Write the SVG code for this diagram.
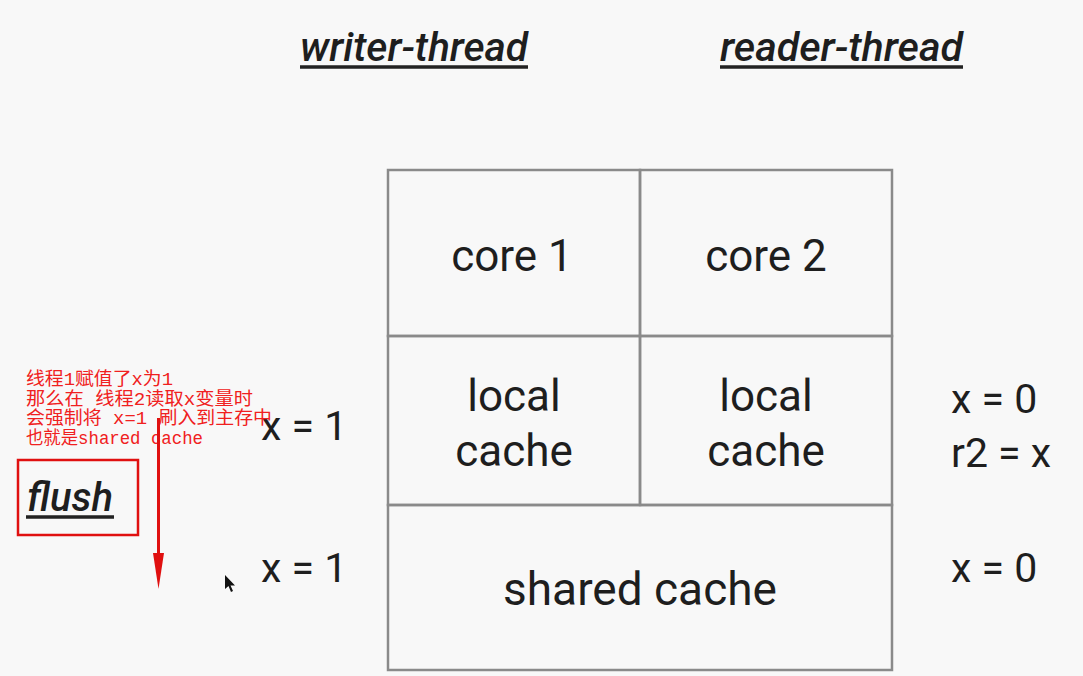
<svg xmlns="http://www.w3.org/2000/svg" width="1083" height="676" viewBox="0 0 1083 676">
<style>
.bg{fill:#f8f8f8}
.cell{fill:none;stroke:#8a8a8a;stroke-width:2.5}
.t{font-family:Roboto,"Liberation Sans",sans-serif;fill:#1e1e1e;text-anchor:middle}
.big{font-size:44px}
.side{font-family:Roboto,"Liberation Sans",sans-serif;fill:#1e1e1e;font-size:41px}
.head{font-family:Roboto,"Liberation Sans",sans-serif;font-style:italic;font-weight:500;fill:#1e1e1e;font-size:40px}
.ul{stroke:#222;stroke-width:3.5}
.note{font-family:"Liberation Mono","Noto Sans CJK SC",monospace;font-size:18px;fill:#f02020}
</style>
<rect class="bg" x="0" y="0" width="1083" height="676"/>

<g id="writer-thread">
<text class="head" x="300" y="61" textLength="228" lengthAdjust="spacingAndGlyphs">writer-thread</text>
<line class="ul" x1="300" y1="67" x2="528" y2="67"/>
</g>
<g id="reader-thread">
<text class="head" x="720" y="61" textLength="243" lengthAdjust="spacingAndGlyphs">reader-thread</text>
<line class="ul" x1="720" y1="67" x2="963" y2="67"/>
</g>

<g id="core1">
<rect class="cell" x="388" y="170" width="252" height="166"/>
<text class="t big" x="512" y="271">core 1</text>
</g>
<g id="core2">
<rect class="cell" x="640" y="170" width="252" height="166"/>
<text class="t big" x="766" y="271">core 2</text>
</g>
<g id="local-cache-1">
<rect class="cell" x="388" y="336" width="252" height="169"/>
<text class="t big" x="514" y="411">local</text>
<text class="t big" x="514" y="466">cache</text>
</g>
<g id="local-cache-2">
<rect class="cell" x="640" y="336" width="252" height="169"/>
<text class="t big" x="766" y="411">local</text>
<text class="t big" x="766" y="466">cache</text>
</g>
<g id="shared-cache">
<rect class="cell" x="388" y="505" width="504" height="165"/>
<text class="t" x="640" y="605" font-size="46">shared cache</text>
</g>

<g id="writer-values">
<text class="side" x="261" y="440">x = 1</text>
<text class="side" x="261" y="582">x = 1</text>
</g>
<g id="reader-values">
<text class="side" x="951" y="413">x = 0</text>
<text class="side" x="951" y="467">r2 = x</text>
<text class="side" x="951" y="582">x = 0</text>
</g>

<g id="flush">
<rect x="18" y="460" width="120" height="75" fill="none" stroke="#e01010" stroke-width="2.5"/>
<text class="head" x="27" y="511" font-size="38" textLength="86" lengthAdjust="spacingAndGlyphs">flush</text>
<line class="ul" x1="26" y1="517" x2="114" y2="517"/>
</g>

<g id="note">
<text class="note" x="26" y="385" textLength="147" lengthAdjust="spacingAndGlyphs">线程1赋值了x为1</text>
<text class="note" x="26" y="404.5" textLength="227" lengthAdjust="spacingAndGlyphs">那么在 线程2读取x变量时</text>
<text class="note" x="26" y="424" textLength="246" lengthAdjust="spacingAndGlyphs">会强制将 x=1 刷入到主存中</text>
<text class="note" x="26" y="443.5" textLength="177" lengthAdjust="spacingAndGlyphs">也就是shared cache</text>
</g>

<g id="connectors">
<line x1="158.5" y1="418" x2="158.5" y2="560" stroke="#e01010" stroke-width="3"/>
<polygon points="153,553 164,553 158.5,589" fill="#e01010"/>
</g>

<g id="cursor">
<polygon points="225,575 225,589 228.5,586 231,592 233,591 230.5,585.5 235,585.5" fill="#111"/>
</g>
</svg>
